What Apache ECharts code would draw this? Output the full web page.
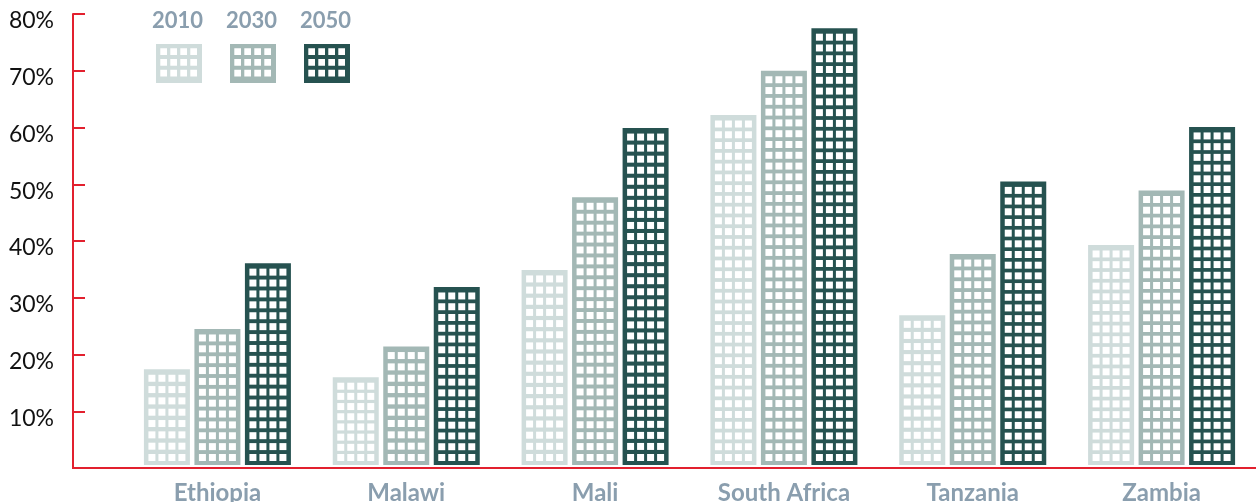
<!DOCTYPE html>
<html>
<head>
<meta charset="utf-8">
<script src="https://cdn.jsdelivr.net/npm/echarts@6/dist/echarts.min.js"></script>
<style>
html,body{margin:0;padding:0;background:#fff;}
#chart{width:1256px;height:502px;}
</style>
</head>
<body>
<div id="chart"></div>
<script>
// ---- data ----
const categories = ['Ethiopia', 'Malawi', 'Mali', 'South Africa', 'Tanzania', 'Zambia'];
const seriesNames = ['2010', '2030', '2050'];
const values2010 = [17.4, 16.0, 34.9, 62.2, 26.9, 39.3];
const values2030 = [24.5, 21.4, 47.7, 70.0, 37.7, 48.9];
const values2050 = [36.1, 31.9, 59.9, 77.5, 50.5, 60.1];
const yTicks = [10, 20, 30, 40, 50, 60, 70, 80];

// ---- style ----
const colors = ['#cfdcdb', '#a3b8b5', '#265250'];
const red = '#e2202e';
const labelGray = '#8a9eae';
const allValues = [values2010, values2030, values2050];

const BAR_W = 46, BAR_STEP = 50.5, WIN = 7, WIN_H = 7, COL_STEP = 10, ROW_STEP = 10.9, SIDE = 4.5, TOP_PAD = 5.5, BOT_PAD = 4, BASE_GAP = 3;

function renderBuilding(seriesIdx) {
  return function (params, api) {
    const idx = api.value(0);
    const top = api.coord([idx, api.value(1)]);
    const base = api.coord([idx, 0]);
    const cx = top[0] + (seriesIdx - 1) * BAR_STEP;
    const x0 = cx - BAR_W / 2;
    const y0 = top[1];
    const y1 = base[1] - BASE_GAP;
    const children = [{
      type: 'rect',
      shape: { x: x0, y: y0, width: BAR_W, height: y1 - y0 },
      style: { fill: colors[seriesIdx] }
    }];
    const avail = (y1 - BOT_PAD) - (y0 + TOP_PAD);
    const rows = Math.max(1, Math.round((avail - WIN_H) / ROW_STEP) + 1);
    const step = rows > 1 ? (avail - WIN_H) / (rows - 1) : 0;
    for (let r = 0; r < rows; r++) {
      const wy = y0 + TOP_PAD + r * step;
      for (let c = 0; c < 4; c++) {
        children.push({
          type: 'rect',
          shape: { x: x0 + SIDE + c * COL_STEP, y: wy, width: WIN, height: WIN_H },
          style: { fill: '#ffffff' }
        });
      }
    }
    return { type: 'group', children: children };
  };
}

// legend icon path (46 x 39) with window holes
function legendIconPath() {
  let p = 'path://M0,0H46V39H0Z';
  const cols = [4.3, 14.3, 24.3, 34.3];
  const rows = [4.3, 15, 25.7];
  rows.forEach(r => cols.forEach(c => {
    p += 'M' + c + ',' + r + 'V' + (r + 6.7) + 'H' + (c + 6.7) + 'V' + r + 'Z';
  }));
  return p;
}
const icon = legendIconPath();
const legendLeft = [156, 230, 304];

const chart = echarts.init(document.getElementById('chart'), null, { renderer: 'canvas' });

const option = {
  animation: false,
  backgroundColor: '#ffffff',
  grid: { left: 123, right: 0, top: 14, bottom: 34, containLabel: false, outerBoundsMode: 'none' },
  legend: seriesNames.map((n, i) => ({
    data: [{ name: n, icon: icon }],
    left: legendLeft[i] - 5,
    top: 44 - 5,
    itemWidth: 46,
    itemHeight: 39,
    formatter: () => '',
    selectedMode: false
  })),
  xAxis: {
    type: 'category',
    data: categories,
    axisLine: { show: true, lineStyle: { color: red, width: 2 } },
    axisTick: { show: false },
    axisLabel: {
      color: labelGray,
      fontFamily: 'Lato',
      fontWeight: 'bold',
      fontSize: 24,
      margin: 13
    },
    splitLine: { show: false }
  },
  yAxis: {
    type: 'value',
    min: 0,
    max: 80,
    interval: 10,
    offset: 50,
    axisLine: { show: true, lineStyle: { color: red, width: 2 } },
    axisTick: { show: true, inside: true, length: 12, lineStyle: { color: red, width: 2 } },
    axisLabel: {
      color: '#111111',
      fontFamily: 'Lato',
      fontSize: 23,
      margin: 19,
      formatter: v => (yTicks.indexOf(v) >= 0 ? '{a|' + v + '%}' : ''),
      rich: {
        a: { fontFamily: 'Lato', fontSize: 23, color: '#111111', padding: [14, 0, 0, 0] }
      }
    },
    splitLine: { show: false }
  },
  series: seriesNames.map((n, i) => ({
    type: 'custom',
    name: n,
    color: colors[i],
    itemStyle: { color: colors[i] },
    renderItem: renderBuilding(i),
    encode: { x: 0, y: 1 },
    data: allValues[i].map((v, k) => [k, v]),
    clip: false
  }))
};
chart.setOption(option);

// decorations: legend titles above icons and the axis-line stub between y axis and category band
const baseY = chart.convertToPixel({ yAxisIndex: 0 }, 0);
chart.setOption({
  graphic: [
    {
      type: 'line',
      shape: { x1: 72, y1: baseY, x2: 124, y2: baseY },
      style: { stroke: red, lineWidth: 2 },
      silent: true
    }
  ].concat(seriesNames.map((n, i) => ({
    type: 'text',
    left: legendLeft[i] + 23 - 27,
    top: 10,
    style: {
      text: n,
      fill: labelGray,
      font: 'bold 22px Lato',
      width: 54,
      align: 'center'
    },
    silent: true
  })))
});
</script>
</body>
</html>
